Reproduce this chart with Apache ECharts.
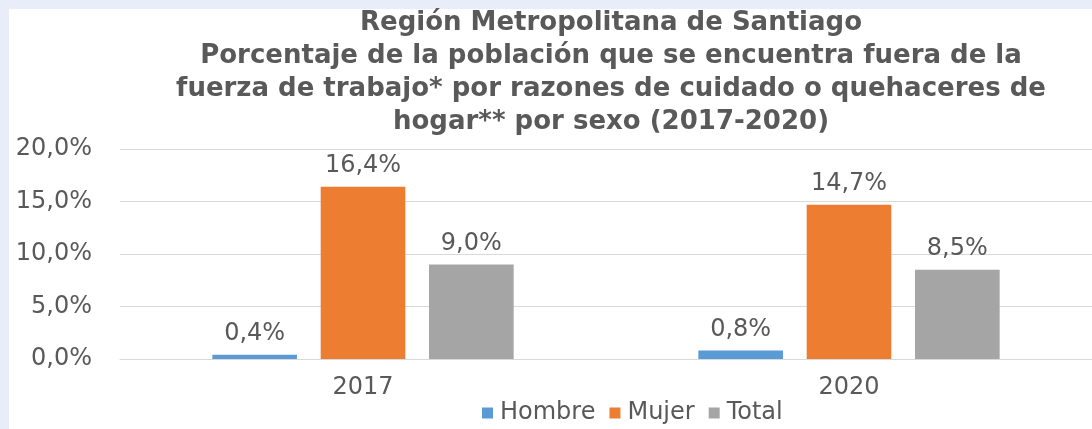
<!DOCTYPE html>
<html>
<head>
<meta charset="utf-8">
<script src="https://cdn.jsdelivr.net/npm/echarts@6/dist/echarts.min.js"></script>
<style>
  html, body { margin: 0; padding: 0; }
  #chart {
    width: 1092px; height: 429px;
    background:
      linear-gradient(#e8edf9, #e8edf9) top left / 100% 9px no-repeat,
      linear-gradient(#e8edf9, #e8edf9) top left / 9px 100% no-repeat,
      #ffffff;
  }
</style>
</head>
<body>
<div id="chart"></div>
<script>
// datos
const years = ['2017', '2020'];
const hombre = [0.4, 0.8];
const mujer = [16.4, 14.7];
const total = [9.0, 8.5];
const tituloLineas = [
  'Región Metropolitana de Santiago',
  'Porcentaje de la población que se encuentra fuera de la',
  'fuerza de trabajo* por razones de cuidado o quehaceres de',
  'hogar** por sexo (2017-2020)'
];

const font = 'DejaVu Sans';
const gris = '#595959';
const pct = v => v.toFixed(1).replace('.', ',') + '%';

const chart = echarts.init(document.getElementById('chart'));

function serie(name, data, color) {
  return {
    name: name,
    type: 'bar',
    data: data,
    barGap: '28%',
    barCategoryGap: '38%',
    itemStyle: { color: color },
    label: {
      show: true,
      position: 'top',
      distance: 9,
      formatter: p => pct(p.value),
      color: gris,
      fontFamily: font,
      fontSize: 24
    }
  };
}

// una linea de texto por elemento, asi todas salen en negrita
const titulo = tituloLineas.map((t, i) => ({
  type: 'text',
  x: 611,
  y: 23 + i * 33,
  style: {
    text: t,
    textAlign: 'center',
    textVerticalAlign: 'middle',
    fill: gris,
    font: 'bold 26px "DejaVu Sans"'
  }
}));

const option = {
  animation: false,
  graphic: titulo,
  legend: {
    data: ['Hombre', 'Mujer', 'Total'],
    left: 482,
    top: 401,
    padding: 0,
    icon: 'rect',
    itemWidth: 11,
    itemHeight: 11,
    itemGap: 14,
    textStyle: { fontFamily: font, fontSize: 24, color: gris, padding: [0, 0, 0, 2] }
  },
  grid: { left: 120, top: 149, width: 980, height: 210, containLabel: false },
  xAxis: {
    type: 'category',
    data: years,
    axisTick: { show: false },
    axisLine: { lineStyle: { color: '#d9d9d9', width: 1 } },
    axisLabel: { margin: 17, fontFamily: font, fontSize: 24, color: gris }
  },
  yAxis: {
    type: 'value',
    min: 0,
    max: 20,
    interval: 5,
    axisLabel: { margin: 28, formatter: v => pct(v), fontFamily: font, fontSize: 24, color: gris },
    splitLine: { lineStyle: { color: '#d9d9d9', width: 1 } }
  },
  series: [
    serie('Hombre', hombre, '#5b9bd5'),
    serie('Mujer', mujer, '#ed7d31'),
    serie('Total', total, '#a5a5a5')
  ]
};
chart.setOption(option);
</script>
</body>
</html>
